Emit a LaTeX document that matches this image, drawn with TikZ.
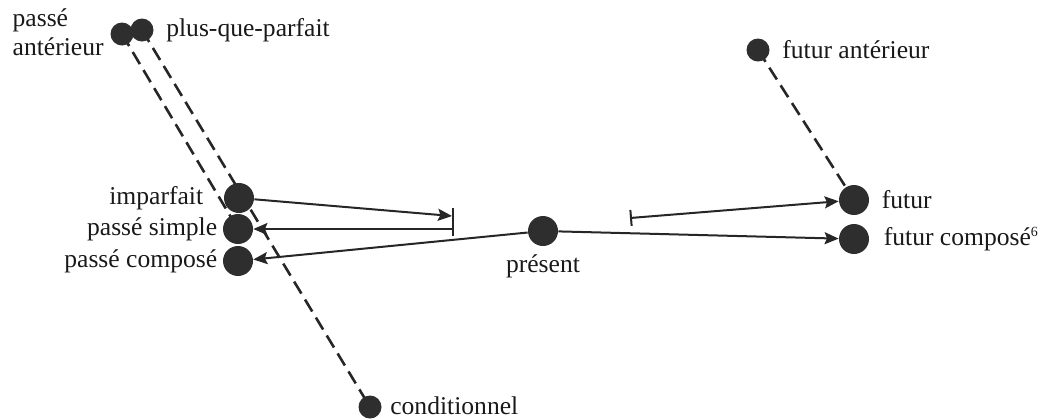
\documentclass[tikz,border=0pt]{standalone}
\usepackage{fontspec}
\setmainfont{Liberation Serif}
\usetikzlibrary{arrows.meta, positioning, backgrounds}
\tikzset{
  bigdot/.style ={circle, fill=black!82, inner sep=0pt, minimum size=15pt},
  smalldot/.style={circle, fill=black!82, inner sep=0pt, minimum size=11.5pt},
  lbl/.style    ={font=\fontsize{12.8}{14.5}\selectfont, inner sep=1pt, text=black!90},
  arr/.style    ={-{Stealth[length=7pt, width=6pt, inset=1.2pt]}, line width=1pt, black!85},
  bararr/.style ={{Bar[width=8pt]}-{Stealth[length=7pt, width=6pt, inset=1.2pt]},
                  line width=1pt, black!85},
  link/.style   ={dash pattern=on 7pt off 3.5pt, line width=1.3pt, black!85},
}

\begin{document}
\begin{tikzpicture}[x=0.5pt, y=-0.5pt]
  \useasboundingbox (0,0) rectangle (1044,419);

  % past
  \node[smalldot] (pa)   at (122,34)  {};
  \node[smalldot] (pqp)  at (142,30)  {};
  \node[bigdot]   (imp)  at (239,198) {};
  \node[bigdot]   (ps)   at (238,229) {};
  \node[bigdot]   (pc)   at (238,261) {};
  \node[smalldot] (cond) at (370,407) {};
  % present / future
  \node[bigdot]   (pres) at (543,231) {};
  \node[bigdot]   (fut)  at (854,200) {};
  \node[bigdot]   (fc)   at (854,239) {};
  \node[smalldot] (fa)   at (758,50)  {};

  \node[lbl, align=left, anchor=east] (paL) at (106,32) {passé\\antérieur};
  \node[lbl, right=5pt of pqp]  (pqpL)  {plus-que-parfait};
  \node[lbl, left=9pt of imp]   (impL)  {imparfait};
  \node[lbl, left=1.5pt of ps]  (psL)   {passé simple};
  \node[lbl, left=1.5pt of pc]  (pcL)   {passé composé};
  \node[lbl, below=3pt of pres] (presL) {présent};
  \node[lbl, right=5pt of fut]  (futL)  {futur};
  \node[lbl, right=6pt of fc]   (fcL)   {futur composé\textsuperscript{\fontsize{7}{7}\selectfont 6}};
  \node[lbl, right=5pt of fa]   (faL)   {futur antérieur};
  \node[lbl, right=3pt of cond, yshift=0.5pt] (condL) {conditionnel};

  \coordinate (barT)  at (453,208);
  \coordinate (barB)  at (453,236);
  \coordinate (impE)  at (452,216);
  \coordinate (psS)   at (453,229);
  \coordinate (futS)  at (630,218);

  \begin{scope}[on background layer]
    \draw[link] (pa.center)  -- (ps.center);
    \draw[link] (pqp.center) -- (cond.center);
    \draw[link] (fa.center)  -- (fut.center);
  \end{scope}

  \draw[arr] (imp) -- (impE);
  \draw[line width=1pt, black!85] (barT) -- (barB);
  \draw[arr] (psS) -- (ps);
  \draw[arr] (pres) -- (pc);
  \draw[arr] (pres) -- (fc);
  \draw[bararr] (futS) -- (fut);
\end{tikzpicture}
\end{document}
